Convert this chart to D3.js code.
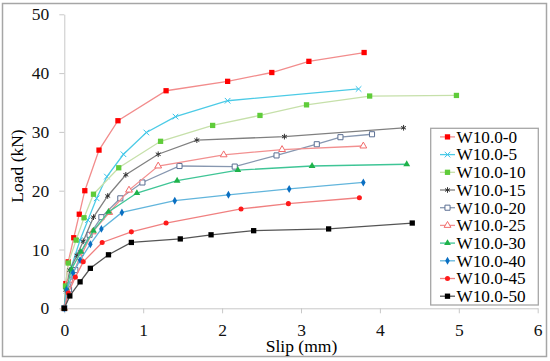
<!DOCTYPE html>
<html>
<head>
<meta charset="utf-8">
<script src="https://cdn.jsdelivr.net/npm/d3@7"></script>
<style>
  body { margin: 0; background: #fff; }
  svg { display: block; }
  text { font-family: "Liberation Serif", "Times New Roman", serif; }
</style>
</head>
<body>
<svg id="chart" width="550" height="361"></svg>
<script>
// series names in legend order
const names = ["W10.0-0", "W10.0-5", "W10.0-10", "W10.0-15", "W10.0-20",
               "W10.0-25", "W10.0-30", "W10.0-40", "W10.0-45", "W10.0-50"];

// [slip (mm), load (kN)]
const w0 = [[0,0],[0.02,4.2],[0.05,7.9],[0.12,12.0],[0.19,16.0],[0.26,20.0],[0.44,26.9],
            [0.68,31.9],[1.29,37.0],[2.07,38.6],[2.63,40.1],[3.10,42.0],[3.80,43.5]];
const w5 = [[0,0],[0.03,3.0],[0.09,7.1],[0.20,11.6],[0.30,15.0],[0.41,18.7],[0.54,22.4],
            [0.75,26.2],[1.04,29.9],[1.41,32.6],[2.07,35.3],[3.73,37.3]];
const w10 = [[0,0],[0.015,3.8],[0.05,7.7],[0.15,11.6],[0.25,15.4],[0.37,19.4],[0.69,23.9],
             [1.22,28.4],[1.88,31.1],[2.48,32.8],[3.07,34.6],[3.87,36.1],[4.97,36.2]];
const w15 = [[0,0],[0.02,3.1],[0.07,6.5],[0.16,9.0],[0.24,11.4],[0.37,15.5],[0.55,19.1],
             [0.78,22.7],[1.19,26.2],[1.68,28.6],[2.79,29.2],[4.30,30.7]];
const w20 = [[0,0],[0.06,3.2],[0.14,6.5],[0.21,9.4],[0.32,12.5],[0.47,15.5],[0.71,18.7],
             [0.99,21.4],[1.46,24.2],[2.16,24.1],[2.69,26.0],[3.20,27.9],[3.50,29.1],[3.90,29.6]];
const w25 = [[0,0],[0.07,4.8],[0.20,8.6],[0.36,13.0],[0.57,16.3],[0.82,20.1],[1.19,24.2],
             [2.02,26.1],[2.76,27.0],[3.79,27.6]];
const w30 = [[0,0],[0.03,3.4],[0.09,6.6],[0.21,9.6],[0.37,13.2],[0.56,16.4],[0.92,19.6],
             [1.43,21.7],[2.20,23.5],[3.14,24.2],[4.34,24.5]];
const w40 = [[0,0],[0.03,3.1],[0.11,6.0],[0.20,8.2],[0.33,10.9],[0.47,13.5],[0.73,16.3],
             [1.40,18.3],[2.08,19.3],[2.85,20.3],[3.79,21.4]];
const w45 = [[0,0],[0.05,2.6],[0.14,5.3],[0.24,7.9],[0.48,11.2],[0.85,13.0],[1.29,14.5],
             [2.24,16.9],[2.84,17.8],[3.74,18.8]];
const w50 = [[0,0],[0.07,2.1],[0.20,4.5],[0.33,6.8],[0.56,9.1],[0.85,11.2],[1.47,11.8],
             [1.86,12.5],[2.40,13.2],[3.35,13.5],[4.41,14.5]];

const xTicks = [0, 1, 2, 3, 4, 5, 6];
const yTicks = [0, 10, 20, 30, 40, 50];

const seriesData = [w0, w5, w10, w15, w20, w25, w30, w40, w45, w50];

// marker / line styling per series
const styles = [
  { shape: d3.symbolSquare, size: 28, fill: "#ff0000", stroke: "none", line: "#f28c8c" },
  { shape: d3.symbolTimes, size: 22, fill: "none", stroke: "#38c3ea", line: "#4ccbe6" },
  { shape: d3.symbolSquare, size: 28, fill: "#5fcc3a", stroke: "none", line: "#c6e0aa" },
  { shape: d3.symbolAsterisk, size: 22, fill: "none", stroke: "#333333", line: "#808080" },
  { shape: d3.symbolSquare, size: 26, fill: "#ffffff", stroke: "#5b6f93", line: "#8797b0" },
  { shape: d3.symbolTriangle, size: 20, fill: "#ffffff", stroke: "#f26b6b", line: "#f29090" },
  { shape: d3.symbolTriangle, size: 20, fill: "#1fb24a", stroke: "none", line: "#3fc596" },
  { shape: d3.symbolDiamond, size: 18, fill: "#0a6fc2", stroke: "none", line: "#62b5dc" },
  { shape: d3.symbolCircle, size: 20, fill: "#ff1a1a", stroke: "none", line: "#f08080" },
  { shape: d3.symbolSquare, size: 28, fill: "#000000", stroke: "none", line: "#555555" }
];

const svg = d3.select("#chart");
const serif = '"Liberation Serif", "Times New Roman", serif';

const plotLeft = 64.3, plotRight = 537.7, plotTop = 14.3, plotBottom = 308.3;

const xScale = d3.scaleLinear().domain([0, 6]).range([plotLeft, plotRight]);
const yScale = d3.scaleLinear().domain([0, 50]).range([plotBottom, plotTop]);

// outer frame
svg.append("rect")
    .attr("x", 2.5).attr("y", 3.5)
    .attr("width", 544).attr("height", 353)
    .attr("fill", "none")
    .attr("stroke", "#a6a6a6")
    .attr("stroke-width", 1.5);

const xAxis = svg.append("g")
    .attr("transform", `translate(0,${plotBottom})`)
    .call(d3.axisBottom(xScale).tickValues(xTicks).tickFormat(d3.format("d"))
        .tickSize(5).tickPadding(10).tickSizeOuter(0));

const yAxis = svg.append("g")
    .attr("transform", `translate(${plotLeft},0)`)
    .call(d3.axisLeft(yScale).tickValues(yTicks).tickFormat(d3.format("d"))
        .tickSize(5).tickPadding(10).tickSizeOuter(0));

[xAxis, yAxis].forEach(g => {
    g.attr("font-family", serif).attr("font-size", 17.5);
    g.select(".domain").attr("stroke", "#c8c8c8");
    g.selectAll(".tick line").attr("stroke", "#c8c8c8");
    g.selectAll(".tick text").attr("fill", "#111");
});

// axis titles
svg.append("text")
    .attr("x", 301.5).attr("y", 352)
    .attr("text-anchor", "middle")
    .attr("font-family", serif)
    .attr("font-size", 17.5)
    .text("Slip (mm)");

svg.append("text")
    .attr("transform", "translate(22.5,166) rotate(-90)")
    .attr("text-anchor", "middle")
    .attr("font-family", serif)
    .attr("font-size", 17.5)
    .text("Load (kN)");

const line = d3.line()
    .x(d => xScale(d[0]))
    .y(d => yScale(d[1]));

seriesData.forEach((data, i) => {
    const st = styles[i];
    svg.append("path")
        .datum(data)
        .attr("fill", "none")
        .attr("stroke", st.line)
        .attr("stroke-width", 1.3)
        .attr("d", line);

    svg.selectAll(null)
        .data(data)
        .enter()
        .append("path")
        .attr("transform", d => `translate(${xScale(d[0])},${yScale(d[1])})`)
        .attr("d", d3.symbol().type(st.shape).size(st.size))
        .attr("fill", st.fill)
        .attr("stroke", st.stroke)
        .attr("stroke-width", 1);
});

// legend
const legend = svg.append("g");
legend.append("rect")
    .attr("x", 430.7).attr("y", 128.3)
    .attr("width", 107.6).attr("height", 176.7)
    .attr("fill", "#fff")
    .attr("stroke", "#a6a6a6")
    .attr("stroke-width", 1.3);

names.forEach((name, i) => {
    const st = styles[i];
    const cy = 136.9 + i * 17.7;
    legend.append("line")
        .attr("x1", 440).attr("x2", 455)
        .attr("y1", cy).attr("y2", cy)
        .attr("stroke", st.line)
        .attr("stroke-width", 1.3);
    legend.append("path")
        .attr("transform", `translate(447.5,${cy})`)
        .attr("d", d3.symbol().type(st.shape).size(st.size))
        .attr("fill", st.fill)
        .attr("stroke", st.stroke)
        .attr("stroke-width", 1);
    legend.append("text")
        .attr("x", 456.5).attr("y", cy + 5.8)
        .attr("font-family", serif)
        .attr("font-size", 17.2)
        .text(name);
});
</script>
</body>
</html>
